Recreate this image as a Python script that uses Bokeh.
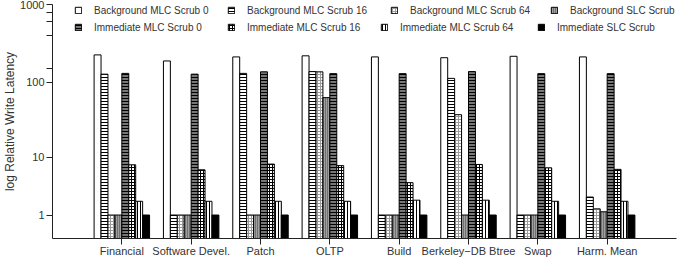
from bokeh.plotting import figure
from bokeh.models import FactorRange, Range1d, FixedTicker, Legend, LegendItem, ColumnDataSource
from bokeh.transform import dodge
from bokeh.embed import file_html
from bokeh.resources import INLINE

categories = ["Financial", "Software Devel.", "Patch", "OLTP", "Build",
              "Berkeley\u2212DB Btree", "Swap", "Harm. Mean"]

series_names = ["Background MLC Scrub 0", "Background MLC Scrub 16",
                "Background MLC Scrub 64", "Background SLC Scrub",
                "Immediate MLC Scrub 0", "Immediate MLC Scrub 16",
                "Immediate MLC Scrub 64", "Immediate SLC Scrub"]

bg_mlc_0 = [225, 188, 212, 219, 212, 207, 216, 212]
bg_mlc_16 = [127, 1, 130, 137, 1, 112, 1, 2.4]
bg_mlc_64 = [1, 1, 1, 136, 1, 37.7, 1, 1.4]
bg_slc = [1, 1, 1, 63, 1, 1, 1, 1.2]
imm_mlc_0 = [130, 127, 136, 129, 129, 137, 129, 129]
imm_mlc_16 = [7.8, 6.6, 8.0, 7.6, 4.2, 7.9, 7.05, 6.7]
imm_mlc_64 = [2.0, 2.0, 2.0, 2.0, 2.1, 2.1, 2.0, 2.0]
imm_slc = [1, 1, 1, 1, 1, 1, 1, 1]

y_tick_values = [1, 10, 100, 1000]
y_minor_values = [150, 400, 600, 800]

series = [bg_mlc_0, bg_mlc_16, bg_mlc_64, bg_slc,
          imm_mlc_0, imm_mlc_16, imm_mlc_64, imm_slc]

FONT = "Liberation Sans"
TXT = "#333333"

# the axis is log(1 + value)
data = {"cat": categories}
for i, s in enumerate(series):
    data[f"s{i}"] = [v + 1 for v in s]
src = ColumnDataSource(data)

p = figure(width=678, height=261,
           x_range=FactorRange(factors=categories, range_padding=0.5,
                               range_padding_units="absolute"),
           y_range=Range1d(1, 1001), y_axis_type="log",
           output_backend="svg", toolbar_location=None,
           min_border_left=10, min_border_right=2,
           min_border_top=4, min_border_bottom=23)

styles = [
    dict(fill_color="white"),
    dict(fill_color="white", hatch_pattern="horizontal_line", hatch_color="black", hatch_scale=3),
    dict(fill_color="white", hatch_pattern="cross", hatch_color="#9a9a9a", hatch_scale=3),
    dict(fill_color="#a0a0a0", hatch_pattern="vertical_line", hatch_color="#404040", hatch_scale=2),
    dict(fill_color="#777777", hatch_pattern="horizontal_line", hatch_color="black", hatch_scale=3),
    dict(fill_color="white", hatch_pattern="cross", hatch_color="black", hatch_scale=3),
    dict(fill_color="white", hatch_pattern="vertical_line", hatch_color="black", hatch_scale=3),
    dict(fill_color="black"),
]

renderers = []
for i in range(8):
    off = (i - 3.5) * 0.1
    r = p.vbar(x=dodge("cat", off, range=p.x_range), top=f"s{i}", bottom=1,
               width=0.1, source=src, line_color="black", line_width=1,
               **styles[i])
    renderers.append(r)

# one single-entry legend per key, placed like the reference's key rows
FL = 55
key_x = [77, 230, 393, 553, 77, 230, 383, 540]
key_y = [222, 222, 222, 222, 205, 205, 205, 205]
for i in range(8):
    p.add_layout(Legend(items=[LegendItem(label=series_names[i], renderers=[renderers[i]])],
                        orientation="horizontal", location=(key_x[i] - FL, key_y[i]),
                        glyph_width=8, glyph_height=8, label_standoff=12,
                        label_text_font=FONT, label_text_font_size="10px",
                        label_text_color=TXT, label_height=12,
                        padding=0, margin=0, border_line_color=None,
                        background_fill_alpha=0))

p.grid.visible = False
p.outline_line_color = None

p.xaxis.major_label_text_font = FONT
p.xaxis.major_label_text_font_size = "11px"
p.xaxis.major_label_text_color = TXT
p.xaxis.major_tick_out = 6
p.xaxis.major_tick_in = 0
p.xaxis.major_label_standoff = 0
p.xaxis.axis_line_color = "#222222"
p.xaxis.major_tick_line_color = "#222222"

p.yaxis.ticker = FixedTicker(ticks=[v + 1 for v in y_tick_values],
                             minor_ticks=[v + 1 for v in y_minor_values])
p.yaxis.major_label_overrides = {v + 1: str(v) for v in y_tick_values}
p.yaxis.major_label_text_font = FONT
p.yaxis.major_label_text_font_size = "11px"
p.yaxis.major_label_text_color = TXT
p.yaxis.major_tick_out = 6
p.yaxis.major_tick_in = 0
p.yaxis.minor_tick_out = 6
p.yaxis.minor_tick_in = 0
p.yaxis.major_label_standoff = 2
p.yaxis.axis_line_color = "#222222"
p.yaxis.major_tick_line_color = "#222222"
p.yaxis.minor_tick_line_color = "#222222"
p.yaxis.axis_label = "log Relative Write Latency"
p.yaxis.axis_label_text_font = FONT
p.yaxis.axis_label_text_font_size = "12px"
p.yaxis.axis_label_text_font_style = "normal"
p.yaxis.axis_label_text_color = TXT
p.yaxis.axis_label_standoff = 0

open("out.html", "w").write(file_html(p, INLINE))
